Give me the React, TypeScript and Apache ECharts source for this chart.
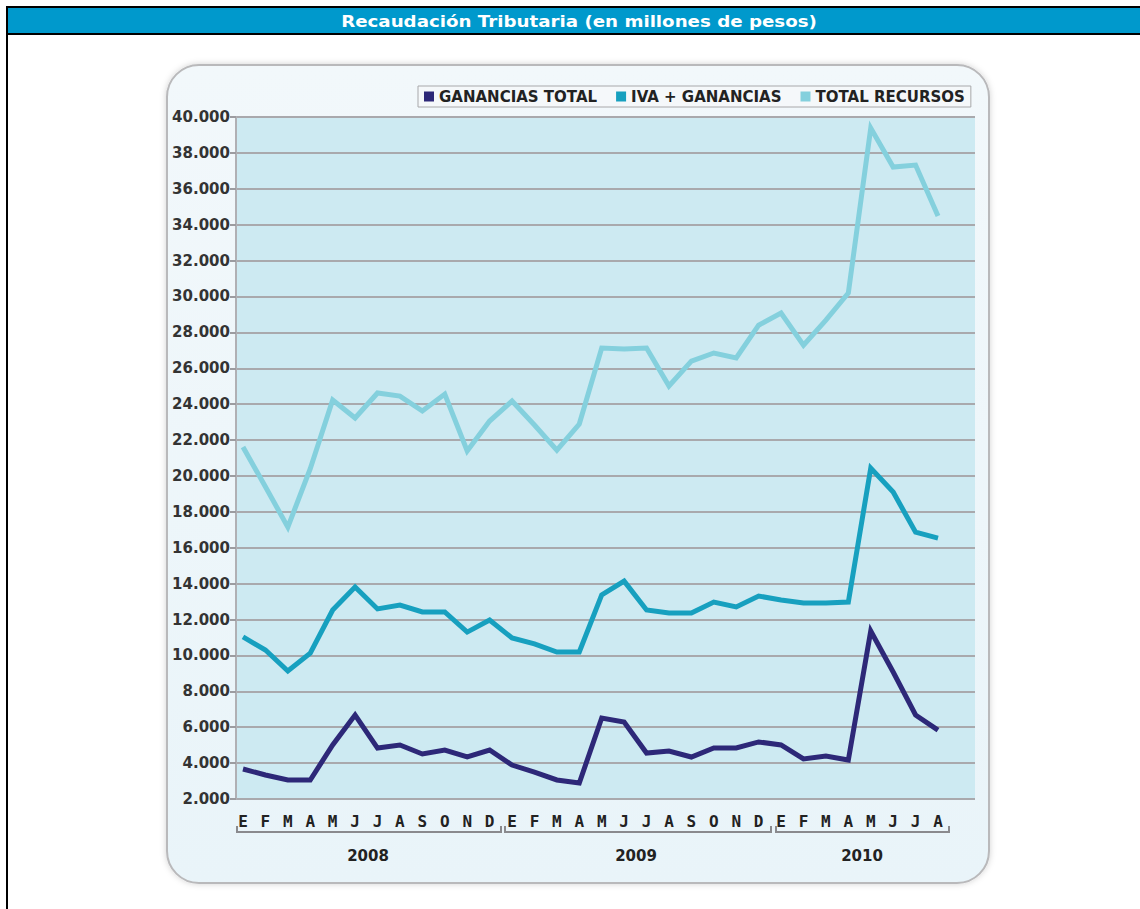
import React, { useEffect, useRef } from "react";
import * as echarts from "echarts";

const monthLetters = ["E", "F", "M", "A", "M", "J", "J", "A", "S", "O", "N", "D"];
const years = ["2008", "2009", "2010"];
const monthsPerYear = [12, 12, 8];

const gananciasTotal = [
  3670, 3340, 3060, 3060, 5010, 6680, 4840, 5010, 4510, 4730, 4340, 4730,
  3890, 3500, 3060, 2890, 6510, 6290, 4560, 4670, 4340, 4840, 4840, 5180,
  5010, 4230, 4400, 4170, 11360, 9080, 6680, 5840,
];
const ivaGanancias = [
  11030, 10300, 9130, 10130, 12530, 13810, 12590, 12810, 12420, 12420, 11300, 11970,
  10970, 10640, 10190, 10190, 13370, 14140, 12530, 12360, 12360, 12970, 12700, 13310,
  13090, 12920, 12920, 12970, 20440, 19100, 16870, 16540,
];
const totalRecursos = [
  21610, 19400, 17150, 20400, 24230, 23230, 24620, 24450, 23620, 24560, 21390, 23060,
  24170, 22840, 21440, 22890, 27130, 27070, 27130, 25010, 26400, 26850, 26570, 28400,
  29080, 27290, 28680, 30190, 39380, 37210, 37320, 34480,
];

const seriesNames = ["GANANCIAS TOTAL", "IVA + GANANCIAS", "TOTAL RECURSOS"];
const seriesColors = ["#2d2878", "#17a0bf", "#84d0dd"];
const yMin = 2000;
const yMax = 40000;
const yStep = 2000;

const categories: string[] = [];
years.forEach((y, i) => {
  for (let m = 0; m < monthsPerYear[i]; m++) categories.push(monthLetters[m] + "-" + y);
});

const fmtThousands = (v: number) =>
  String(Math.round(v)).replace(/\B(?=(\d{3})+(?!\d))/g, ".");

export default function App() {
  const ref = useRef<HTMLDivElement>(null);
  useEffect(() => {
    if (!ref.current) return;
    const chart = echarts.init(ref.current, null, { renderer: "svg" });

    const brackets = [
      [237, 501, 368],
      [505, 771, 636],
      [776, 949, 862],
    ];
    const graphics: any[] = [
      {
        type: "rect",
        z: -20,
        shape: { x: 7, y: 7, width: 1140, height: 910 },
        style: { fill: "#ffffff", stroke: "#000000", lineWidth: 2 },
      },
      {
        type: "rect",
        z: -19,
        shape: { x: 8, y: 8, width: 1132, height: 25 },
        style: { fill: "#0099cc" },
      },
      {
        type: "line",
        z: -19,
        shape: { x1: 7, y1: 34, x2: 1140, y2: 34 },
        style: { stroke: "#000000", lineWidth: 2 },
      },
      {
        type: "text",
        z: -18,
        x: 579,
        y: 21,
        scaleX: 1.14,
        style: {
          text: "Recaudación Tributaria (en millones de pesos)",
          fill: "#ffffff",
          font: "bold 16px 'DejaVu Sans', Verdana, sans-serif",
          textAlign: "center",
          textVerticalAlign: "middle",
        },
      },
      {
        type: "rect",
        z: -15,
        shape: { x: 167, y: 65, width: 822, height: 818, r: 32 },
        style: {
          fill: new echarts.graphic.LinearGradient(0, 0, 0, 1, [
            { offset: 0, color: "#f2f8fb" },
            { offset: 1, color: "#e9f4f9" },
          ]),
          stroke: "#b9b9bb",
          lineWidth: 2,
          shadowBlur: 6,
          shadowColor: "rgba(0,0,0,0.18)",
        },
      },
    ];
    brackets.forEach(([x1, x2, cx], i) => {
      graphics.push({
        type: "polyline",
        z: 5,
        shape: { points: [[x1, 826], [x1, 832], [x2, 832], [x2, 826]] },
        style: { stroke: "#8a8a8e", lineWidth: 2, fill: "none" },
      });
      graphics.push({
        type: "text",
        z: 5,
        x: cx,
        y: 856,
        style: {
          text: years[i],
          fill: "#222222",
          font: "bold 15px 'DejaVu Sans', sans-serif",
          textAlign: "center",
          textVerticalAlign: "middle",
        },
      });
    });

    const dataSets = [gananciasTotal, ivaGanancias, totalRecursos];

    chart.setOption({
      animation: false,
      legend: {
        top: 86,
        left: 418,
        orient: "horizontal",
        icon: "rect",
        itemWidth: 10,
        itemHeight: 10,
        itemGap: 19,
        padding: [3, 6],
        backgroundColor: "#f5f8fa",
        borderColor: "#a8a8aa",
        borderWidth: 1,
        textStyle: { fontFamily: "DejaVu Sans", fontSize: 15, fontWeight: "bold", color: "#222222" },
        data: seriesNames,
      },
      grid: [
        {
          left: 236,
          top: 117,
          width: 739,
          height: 682,
          show: true,
          backgroundColor: "#cdeaf2",
          borderWidth: 0,
        },
        { left: 243, top: 117, width: 695, height: 682, show: false },
      ],
      xAxis: [
        { gridIndex: 0, type: "value", min: 0, max: 1, show: false },
        {
          gridIndex: 1,
          type: "category",
          data: categories,
          boundaryGap: false,
          axisLine: { show: false },
          axisTick: { show: false },
          splitLine: { show: false },
          axisLabel: {
            interval: 0,
            margin: 14,
            formatter: (v: string) => v.split("-")[0],
            fontFamily: "DejaVu Sans Mono",
            fontWeight: "bold",
            fontSize: 16,
            color: "#222222",
          },
        },
      ],
      yAxis: [
        {
          gridIndex: 0,
          type: "value",
          min: yMin,
          max: yMax,
          interval: yStep,
          axisLine: { show: true, lineStyle: { color: "#b0b0b4", width: 2 } },
          axisTick: { show: true, length: 6, lineStyle: { color: "#9c9ca0", width: 2 } },
          axisLabel: {
            margin: 6,
            formatter: (v: number) => fmtThousands(v),
            fontFamily: "DejaVu Sans",
            fontSize: 15,
            fontWeight: "bold",
            color: "#333333",
          },
          splitLine: { show: true, lineStyle: { color: "#a9a9ad", width: 2 } },
        },
        { gridIndex: 1, type: "value", min: yMin, max: yMax, interval: yStep, show: false },
      ],
      series: seriesNames.map((name, i) => ({
        name,
        type: "line",
        xAxisIndex: 1,
        yAxisIndex: 1,
        data: dataSets[i],
        symbol: "none",
        color: seriesColors[i],
        lineStyle: { width: 5, color: seriesColors[i], join: "miter", cap: "butt" },
      })),
      graphic: graphics,
    });
    return () => chart.dispose();
  }, []);
  return (
    <div
      ref={ref}
      style={{ position: "absolute", left: 0, top: 0, width: 1140, height: 909 }}
    />
  );
}
